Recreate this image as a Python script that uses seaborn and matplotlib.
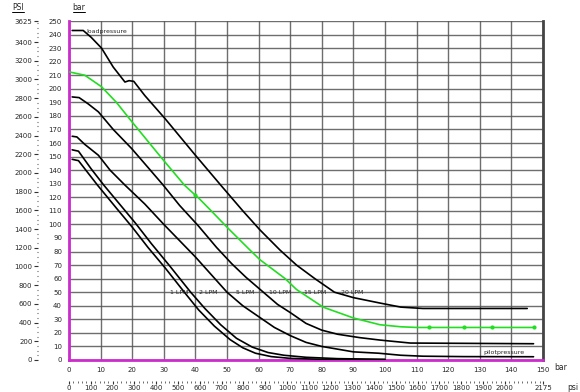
import numpy as np
import pandas as pd
import matplotlib
matplotlib.use("Agg")
import matplotlib.pyplot as plt
import seaborn as sns
from matplotlib.ticker import MultipleLocator, FixedLocator
from matplotlib.lines import Line2D

# ── data (bar on both axes) ───────────────────────────────────────────────────
load_x = [1, 4.5, 7, 10.3, 14, 17.7, 19, 20.5, 24, 30.4, 40, 48, 55, 60.4, 66.8,
          72, 77.8, 84, 90, 98.4, 105, 112, 145]
load_y = [243, 243, 238, 230, 216, 205, 206, 205.5, 195, 178, 151, 129, 110, 96, 81,
          70, 60, 50, 46, 42, 39, 38, 38]

lpm15_x = [0, 5, 10.3, 15, 19.8, 29.3, 36.5, 40, 41, 45, 50.4, 57.3, 60.4, 68.4,
           72, 80.4, 90, 98.4, 105, 110, 114, 125, 134, 147]
lpm15_y = [212.5, 210, 201.5, 190, 176, 149, 129, 121.5, 119.5, 110, 97, 81, 74, 60,
           52, 39, 31, 26, 24.5, 24, 24, 24, 24, 24]
lpm15_marks = [40, 114, 125, 134, 147]

lpm10_x = [1, 3.2, 6, 9.3, 14, 19.8, 25, 29.8, 35, 40.9, 46.7, 51.5, 56, 61.5, 66,
           70, 75, 80, 85, 92, 98.4, 108, 147]
lpm10_y = [194, 193.5, 189, 183, 170, 156, 142, 129, 114, 99, 83, 71, 61, 50, 41,
           35, 27, 22, 19, 16.5, 14.7, 12.5, 12]

lpm5_x = [1, 2.5, 5, 9.3, 13, 17.7, 24, 30, 35, 40, 45, 50, 55, 60, 65, 70, 75,
          80, 90, 98, 105, 112, 125, 147]
lpm5_y = [165, 164.5, 159, 151, 140, 129, 115, 100, 88, 76, 63, 50, 40, 32, 24,
          18, 13, 10, 6, 5, 3.5, 2.8, 2.5, 2.4]

lpm2_x = [1, 3, 7, 11, 16, 21, 26, 32, 38.5, 43, 48, 53, 58, 63, 68, 75, 85, 100]
lpm2_y = [155, 154, 141, 129, 115, 101, 86, 69, 50, 38, 26, 16, 9.5, 5.5, 3.5, 2,
          1, 0.5]

lpm1_x = [1, 3, 5, 9, 15, 20, 25, 30.4, 36.5, 41, 46, 51, 55, 59, 64, 70, 80, 100]
lpm1_y = [148, 147, 141, 129, 112, 98, 83, 68, 50, 37, 25, 15, 9, 5, 2.5, 1.2,
          0.5, 0.2]

lpm_labels = ["1 LPM", "2 LPM", "5 LPM", "10 LPM", "15 LPM", "20 LPM"]
lpm_label_x = [34.8, 44, 55.7, 66.8, 77.8, 89.6]
lpm_label_y = 50

bar_ticks = list(range(0, 251, 10))
barx_ticks = list(range(0, 151, 10))
psi_y_ticks = list(range(0, 3401, 200)) + [3625]
psi_x_ticks = list(range(0, 2001, 100)) + [2175]
PSI_PER_BAR = 14.5

curves = [("20", load_x, load_y), ("15", lpm15_x, lpm15_y), ("10", lpm10_x, lpm10_y),
          ("5", lpm5_x, lpm5_y), ("2", lpm2_x, lpm2_y), ("1", lpm1_x, lpm1_y)]
df = pd.concat([pd.DataFrame({"flow": f, "x": x, "y": y}) for f, x, y in curves],
               ignore_index=True)
palette = {"20": "black", "15": "#22dd22", "10": "black", "5": "black",
           "2": "black", "1": "black"}

# ── figure ────────────────────────────────────────────────────────────────────
sns.set_style("white")
plt.rcParams["font.family"] = ["DejaVu Sans"]
MAG = "#cc2ccc"

fig = plt.figure(figsize=(5.8, 3.92), dpi=100)
ax = fig.add_axes([69 / 580, 1 - 360 / 392, 474 / 580, 339 / 392])

sns.lineplot(data=df, x="x", y="y", hue="flow", palette=palette, estimator=None,
             sort=False, linewidth=1.2, legend=False, ax=ax, zorder=3)
mark_y = [lpm15_y[lpm15_x.index(v)] for v in lpm15_marks]
ax.scatter(lpm15_marks, mark_y, s=4, color="#22dd22", zorder=4)

ax.set_xlim(0, 150)
ax.set_ylim(0, 250)
ax.set_xticks(barx_ticks)
ax.set_yticks(bar_ticks)
ax.xaxis.set_minor_locator(MultipleLocator(2))
ax.yaxis.set_minor_locator(MultipleLocator(2))
ax.grid(True, which="major", color="#555555", linewidth=1.0, alpha=0.85)
ax.set_axisbelow(True)
ax.set_xlabel("")
ax.set_ylabel("")

for s in ["left", "bottom"]:
    ax.spines[s].set_color(MAG)
    ax.spines[s].set_linewidth(2)
ax.spines["right"].set_color("#444444")
ax.spines["right"].set_linewidth(2)
ax.spines["top"].set_visible(False)

ax.tick_params(axis="both", which="major", direction="out", length=3, width=0.8,
               color="#333333", labelsize=5, pad=2)
ax.tick_params(axis="both", which="minor", direction="out", length=2, width=0.6,
               color="#333333")

# psi axis on the left
sy = ax.secondary_yaxis(-31 / 474, functions=(lambda b: b * PSI_PER_BAR,
                                              lambda p: p / PSI_PER_BAR))
sy.yaxis.set_major_locator(FixedLocator(psi_y_ticks))
sy.yaxis.set_minor_locator(MultipleLocator(50))
sy.spines["left"].set_visible(False)
sy.tick_params(which="major", length=3, width=0.8, color="#333333", labelsize=5, pad=1)
sy.tick_params(which="minor", length=1, width=0.8, color="#555555")

# psi axis at the bottom
sx = ax.secondary_xaxis(-21 / 339, functions=(lambda b: b * PSI_PER_BAR,
                                              lambda p: p / PSI_PER_BAR))
sx.xaxis.set_major_locator(FixedLocator(psi_x_ticks))
sx.xaxis.set_minor_locator(MultipleLocator(20))
sx.spines["bottom"].set_visible(False)
sx.tick_params(which="major", length=2, width=0.8, color="#333333", labelsize=5, pad=1)
sx.tick_params(which="minor", length=1.5, width=0.6, color="#555555")

# curve annotations
ax.text(5.5, 242, "loadpressure", fontsize=4.5, va="center", ha="left", zorder=5)
ax.text(131, 5.5, "pilotpressure", fontsize=4.5, va="center", ha="left", zorder=5)
for lab, lx in zip(lpm_labels, lpm_label_x):
    ax.text(lx, lpm_label_y, lab, fontsize=4.5, ha="center", va="center", zorder=5)


def unit_label(px, py, s, underline=True):
    t = fig.text(px / 580, 1 - py / 392, s, fontsize=5.5, ha="center", va="center")
    if underline:
        fig.canvas.draw()
        bb = t.get_window_extent().transformed(fig.transFigure.inverted())
        fig.add_artist(Line2D([bb.x0, bb.x1], [bb.y0, bb.y0], color="black",
                              linewidth=0.7, transform=fig.transFigure))


unit_label(18, 7, "PSI")
unit_label(79, 7, "bar")
unit_label(561, 368, "bar", underline=False)
unit_label(573, 387, "psi")

fig.savefig("out.png", dpi=100)
